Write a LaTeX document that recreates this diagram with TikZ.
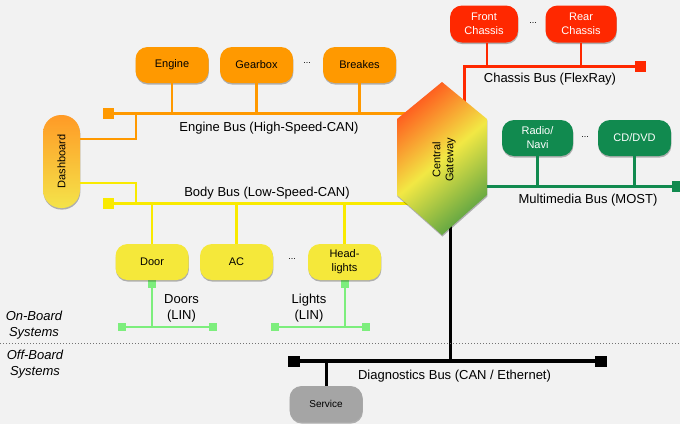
\documentclass[tikz,border=0pt]{standalone}
\usepackage{fontspec}
\setmainfont{Liberation Sans}
\usetikzlibrary{shadows}

\definecolor{canvas}{HTML}{F2F2F2}
\definecolor{engorange}{HTML}{FF9900}
\definecolor{chasred}{HTML}{FF2800}
\definecolor{mmgreen}{HTML}{118A4F}
\definecolor{bodyfill}{HTML}{F5E83A}
\definecolor{bodyline}{HTML}{F9EA00}
\definecolor{lingreen}{HTML}{7DEE7D}
\definecolor{svcgray}{HTML}{A5A5A5}
\definecolor{gwred}{HTML}{FF5A1E}
\definecolor{gwyellow}{HTML}{F2E844}
\definecolor{gwgreen}{HTML}{5EA443}
\definecolor{dashtop}{HTML}{FF9A26}
\definecolor{dashbot}{HTML}{F4E44A}

\tikzset{
  softshadow/.style={drop shadow={shadow xshift=0.4pt, shadow yshift=-1.6pt, fill=black, opacity=0.28}},
  ecu/.style={rounded corners=12pt, minimum width=73pt, minimum height=36pt,
    inner sep=1pt, align=center, font=\fontsize{11}{14}\selectfont, softshadow},
  term/.style={fill, minimum size=11pt, inner sep=0pt, outer sep=0pt},
  linterm/.style={fill=lingreen, minimum size=8pt, inner sep=0pt, outer sep=0pt},
  bus/.style={line width=3pt},
  tap/.style={line width=2.5pt},
  linbus/.style={line width=2pt, lingreen},
  buslabel/.style={font=\fontsize{13}{16}\selectfont, align=center, inner sep=0pt},
  sidelabel/.style={font=\itshape\fontsize{13}{16}\selectfont, align=center, inner sep=0pt},
  elide/.style={font=\fontsize{9}{10}\selectfont, inner sep=0pt},
}

\begin{document}
\begin{tikzpicture}[x=1pt, y=-1pt]
\fill[canvas] (0,0) rectangle (680,424);
\useasboundingbox (0,0) rectangle (680,424);
\clip (0,0) rectangle (680,424);

% centre of the gateway, where the buses meet
\coordinate (gw) at (442,158);

% ---------- chassis domain (FlexRay)
\coordinate (cjoin) at (464,66);
\node[term, fill=chasred] (cend) at (640,66) {};
\draw[bus, chasred] (cjoin |- gw) -- (cjoin) -- (cend);
\node[ecu, fill=chasred, text=white, minimum width=68pt, minimum height=37pt] (front) at (484,24) {Front\\Chassis};
\node[ecu, fill=chasred, text=white, minimum width=71pt, minimum height=37pt] (rear) at (581,24) {Rear\\Chassis};
\node[elide] (cdots) at (533,23) {...};
\draw[tap, chasred] ([xshift=3pt]front.south) -- ([xshift=3pt]front.south |- cjoin);
\draw[tap, chasred] (rear) -- (rear |- cjoin);
\node[buslabel] (clabel) at (550,79) {Chassis Bus (FlexRay)};

% ---------- powertrain domain (high-speed CAN)
\node[term, fill=engorange] (eend) at (108,113) {};
\coordinate (ejoin) at (136,113);
\draw[bus, engorange] (eend) -- (eend -| gw);
\node[ecu, fill=engorange] (engine) at (172,65) {Engine};
\node[ecu, fill=engorange] (gearbox) at (256.5,65) {Gearbox};
\node[ecu, fill=engorange] (brakes) at (359.5,65) {Breakes};
\node[elide] (edots) at (307,63) {...};
\draw[tap, engorange] (engine) -- (engine |- eend);
\draw[tap, engorange] (gearbox) -- (gearbox |- eend);
\draw[tap, engorange] (brakes) -- (brakes |- eend);
\node[buslabel] (elabel) at (269,128) {Engine Bus (High-Speed-CAN)};

% ---------- body domain (low-speed CAN)
\node[term, fill=bodyline] (bend) at (108,203.5) {};
\coordinate (bjoin) at (136,203.5);
\draw[bus, bodyline] (bend) -- (bend -| gw);

% LIN sub-buses
\node[linterm] (dtop) at (152,284) {};
\node[linterm] (dl) at (122,327) {};
\node[linterm] (dr) at (213,327) {};
\draw[linbus] (dl) -- (dr);
\draw[linbus] (dtop) -- (dtop |- dl);
\node[linterm] (ltop) at (344.5,284) {};
\node[linterm] (ll) at (274.5,326.5) {};
\node[linterm] (lr) at (366,326.5) {};
\draw[linbus] (ll) -- (lr);
\draw[linbus] (ltop) -- (ltop |- ll);

\node[ecu, fill=bodyfill] (door) at (152,262) {Door};
\node[ecu, fill=bodyfill] (ac) at (236.5,262) {AC};
\node[ecu, fill=bodyfill] (lights) at (344.5,262) {Head-\\lights};
\node[elide] (bdots) at (292,259) {...};
\draw[tap, bodyline] (door) -- (door |- bend);
\draw[tap, bodyline] (ac) -- (ac |- bend);
\draw[tap, bodyline] (lights) -- (lights |- bend);
\node[buslabel] (blabel) at (267,193) {Body Bus (Low-Speed-CAN)};
\node[buslabel] (dlabel) at (181.5,308.5) {Doors\\(LIN)};
\node[buslabel] (llabel) at (309,308.5) {Lights\\(LIN)};

% dashboard sits on both CAN buses
\node[minimum width=37pt, minimum height=93pt, rounded corners=18pt, inner sep=0pt,
      top color=dashtop, bottom color=dashbot, softshadow,
      font=\fontsize{11}{14}\selectfont] (dash) at (61.5,161.5) {\rotatebox{90}{Dashboard}};
\draw[tap, engorange] ([yshift=22.5pt]dash.east) -| (ejoin);
\draw[tap, bodyline] ([yshift=-21.5pt]dash.east) -| (bjoin);

% ---------- infotainment domain (MOST)
\node[term, fill=mmgreen] (mend) at (677.5,186.5) {};
\draw[bus, mmgreen] (mend -| gw) -- (mend);
\node[ecu, fill=mmgreen, text=white, minimum width=71pt] (radio) at (537.5,138) {Radio/\\Navi};
\node[ecu, fill=mmgreen, text=white] (cd) at (634.5,138) {CD/DVD};
\node[elide] (mdots) at (585,137) {...};
\draw[tap, mmgreen] (radio) -- (radio |- mend);
\draw[tap, mmgreen] (cd) -- (cd |- mend);
\node[buslabel] (mlabel) at (588,200) {Multimedia Bus (MOST)};

% ---------- diagnostics
\node[term, fill=black, minimum width=12pt] (dgl) at (294,361) {};
\node[term, fill=black, minimum width=12pt] (dgr) at (600.5,361) {};
\draw[line width=4pt] (dgl) -- (dgr);
\coordinate (gwdown) at (450,158);
\draw[line width=3pt] (gwdown) -- (gwdown |- dgl);
\node[ecu, fill=svcgray, font=\fontsize{10}{12}\selectfont] (service) at (326,404) {Service};
\draw[line width=3pt] (service) -- (service |- dgl);
\node[buslabel] (glabel) at (454.5,376) {Diagnostics Bus (CAN / Ethernet)};

% ---------- central gateway
\path[top color=gwred, bottom color=gwgreen, middle color=gwyellow, shading angle=40, softshadow]
  (442,82) -- (487,119) -- (487,195) -- (442,235) -- (397,195) -- (397,119) -- cycle;
\node[rotate=90, align=center, font=\fontsize{11}{13}\selectfont] (gwtext) at (444,160) {Central\\Gateway};

% ---------- on-board / off-board split
\coordinate (sepL) at (0,343);
\coordinate (sepR) at (680,343);
\draw[black!55, line width=0.8pt, dash pattern=on 1pt off 2pt] (sepL) -- (sepR);
\node[sidelabel] (onb) at (34,325) {On-Board\\Systems};
\node[sidelabel] (offb) at (35,364.5) {Off-Board\\Systems};
\end{tikzpicture}
\end{document}
